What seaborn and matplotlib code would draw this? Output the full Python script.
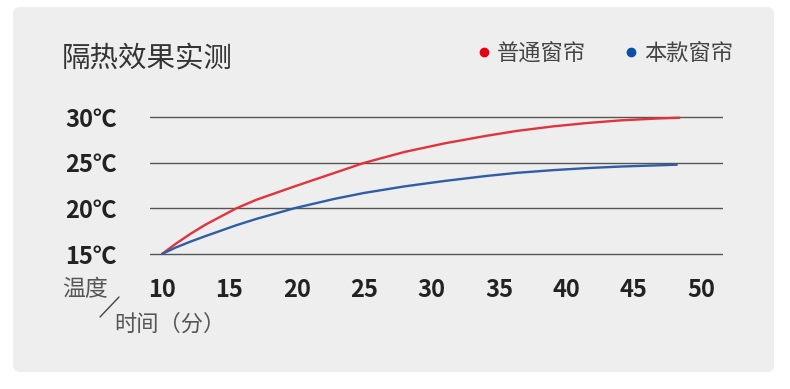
import matplotlib
matplotlib.use("Agg")
import pandas as pd
import matplotlib.pyplot as plt
import seaborn as sns
from matplotlib.patches import FancyBboxPatch
from matplotlib.transforms import IdentityTransform
from matplotlib.lines import Line2D

# data
minutes_normal = [10, 11, 12.1, 13.2, 15.5, 17, 19.9, 22.8, 25, 28, 31, 34, 36.3, 39, 41.6, 44.1, 46.8, 48.4]
temp_normal = [15, 16.1, 17.2, 18.2, 20.0, 20.95, 22.45, 23.9, 25.0, 26.2, 27.15, 27.95, 28.5, 29.0, 29.38, 29.67, 29.87, 29.95]
minutes_ours = [10, 11, 12.1, 13.2, 15.5, 17, 19.9, 22.8, 25, 28, 31, 34, 36.3, 39, 41.7, 44.1, 46.8, 48.2]
temp_ours = [15, 15.7, 16.35, 16.95, 18.15, 18.85, 20.05, 21.05, 21.7, 22.42, 23.02, 23.55, 23.9, 24.2, 24.44, 24.6, 24.73, 24.8]
series_names = ["普通窗帘", "本款窗帘"]
series_colors = ["#e2333d", "#2f5da6"]
dot_colors = ["#e60012", "#0d4ea6"]
x_ticks = [10, 15, 20, 25, 30, 35, 40, 45, 50]
y_ticks = [15, 20, 25, 30]
title = "隔热效果实测"

df = pd.concat([
    pd.DataFrame({"minute": minutes_normal, "temp": temp_normal, "series": series_names[0]}),
    pd.DataFrame({"minute": minutes_ours, "temp": temp_ours, "series": series_names[1]}),
])

sns.set_style("white")
plt.rcParams["font.family"] = ["Noto Sans CJK SC", "DejaVu Sans"]

W, H = 790, 389
fig = plt.figure(figsize=(W / 100, H / 100), dpi=100)
fig.patch.set_facecolor("white")

# grey card behind everything
card = FancyBboxPatch((13, H - 372), 761, 365, boxstyle="round,pad=0,rounding_size=7",
                      transform=IdentityTransform(), facecolor="#eeeeee", edgecolor="none", zorder=0)
fig.add_artist(card)

# axes placed so that y 14.6..30.4 and x 9.11..51.63 map onto the pixel grid
px_per_deg = 9.11
y_lo, y_hi = 14.6, 30.4
top_px = 117.3 - (y_hi - 30) * px_per_deg
bot_px = 254 + (15 - y_lo) * px_per_deg
ax = fig.add_axes([150 / W, 1 - bot_px / H, (723 - 150) / W, (bot_px - top_px) / H])
ax.set_facecolor("none")

sns.lineplot(data=df, x="minute", y="temp", hue="series", palette=series_colors,
             linewidth=1.7, legend=False, ax=ax, zorder=3)

ax.set_xlim(9.11, 51.63)
ax.set_ylim(y_lo, y_hi)
ax.set_xticks(x_ticks)
ax.set_yticks(y_ticks)
ax.set_xticklabels([str(v) for v in x_ticks])
ax.set_yticklabels([f"{v}℃" for v in y_ticks])
ax.set_xlabel("")
ax.set_ylabel("")
ax.set_axisbelow(True)
ax.yaxis.grid(True, color="#555555", linewidth=1.0)
ax.xaxis.grid(False)
for s in ax.spines.values():
    s.set_visible(False)
ax.tick_params(axis="both", length=0, labelsize=17, labelcolor="#222222")
ax.tick_params(axis="y", pad=24)
ax.tick_params(axis="x", pad=15)
for lab in ax.get_xticklabels() + ax.get_yticklabels():
    lab.set_fontweight("bold")

fig.text(62 / W, 1 - 58.5 / H, title, fontsize=20.5, color="#333333", va="center", ha="left")

handles = [Line2D([], [], marker="o", ls="", color=c, markersize=6) for c in dot_colors]
fig.legend(handles, series_names, loc="center right", bbox_to_anchor=(733 / W, 1 - 53 / H),
           ncol=2, frameon=False, fontsize=16, handlelength=0.6, handletextpad=0.3,
           columnspacing=1.7, borderpad=0, borderaxespad=0, labelcolor="#444444")

fig.text(62 / W, 1 - 290 / H, "温度", fontsize=16.5, color="#555555", va="center", ha="left")
fig.text(114 / W, 1 - 324 / H, "时间（分）", fontsize=16, color="#555555", va="center", ha="left")
fig.add_artist(Line2D([100 / W, 119 / W], [1 - 317 / H, 1 - 297 / H], color="#444444", lw=1))

fig.savefig("out.png", dpi=100, facecolor="white")
